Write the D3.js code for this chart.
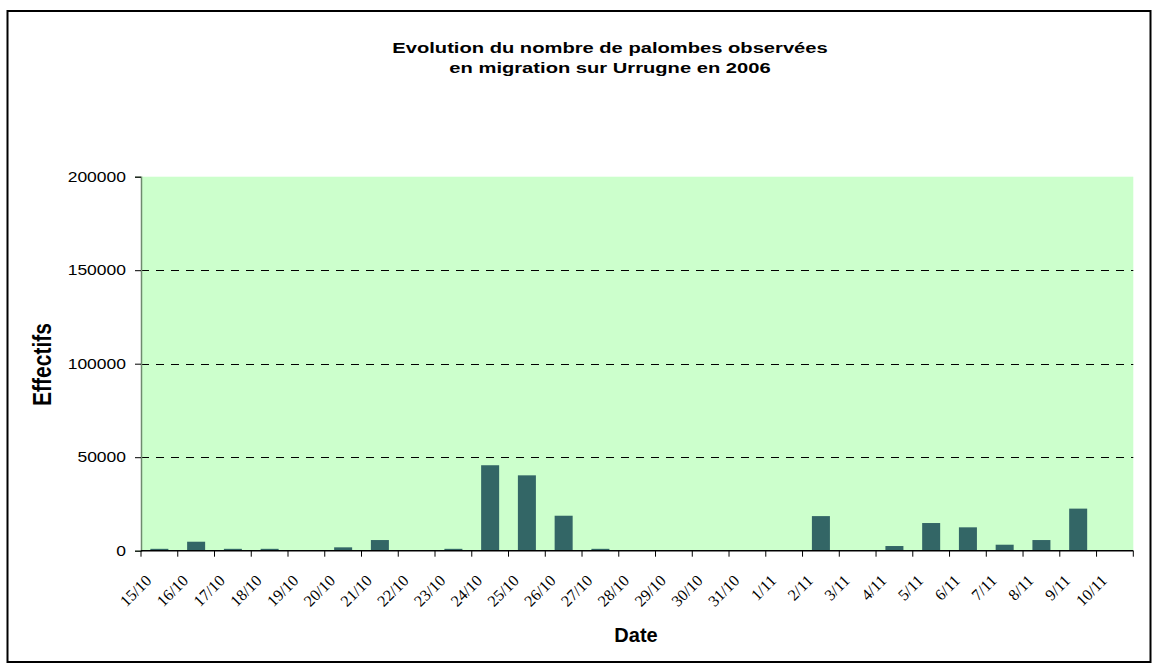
<!DOCTYPE html>
<html>
<head>
<meta charset="utf-8">
<script src="https://cdn.jsdelivr.net/npm/d3@7/dist/d3.min.js"></script>
<style>
  html, body { margin: 0; padding: 0; background: #fff; }
  svg { display: block; }
</style>
</head>
<body>
<svg id="chart" width="1158" height="672"></svg>
<script>
const categories = ["15/10","16/10","17/10","18/10","19/10","20/10","21/10","22/10","23/10","24/10","25/10","26/10","27/10","28/10","29/10","30/10","31/10","1/11","2/11","3/11","4/11","5/11","6/11","7/11","8/11","9/11","10/11"];
const effectifs = [1000,4800,1000,1000,0,1800,5700,0,1000,45700,40300,18700,1000,0,0,0,0,0,18500,0,2500,14800,12500,3200,5700,22500,0];
const yTicks = [0,50000,100000,150000,200000];
const titleLines = ["Evolution du nombre de palombes observées","en migration sur Urrugne en 2006"];
const xTitle = "Date";
const yTitle = "Effectifs";

const svg = d3.select("#chart");
const plot = {left: 141, right: 1133.3, top: 176.7, bottom: 550.7};

// chart border
svg.append("rect").attr("x", 7.5).attr("y", 11).attr("width", 1143).attr("height", 651)
  .attr("fill", "#fff").attr("stroke", "#000").attr("stroke-width", 2);

const x = d3.scaleBand().domain(categories).range([plot.left, plot.right])
  .paddingInner(0.51).paddingOuter(0.255);
const y = d3.scaleLinear().domain([0, 200000]).range([plot.bottom, plot.top]);

// plot background
svg.append("rect").attr("x", plot.left).attr("y", plot.top)
  .attr("width", plot.right - plot.left).attr("height", plot.bottom - plot.top)
  .attr("fill", "#CCFFCC");

// gridlines
svg.append("g").selectAll("line").data(yTicks.filter(t => t > 0 && t < 200000)).join("line")
  .attr("x1", plot.left).attr("x2", plot.right)
  .attr("y1", d => Math.round(y(d)) + 0.5).attr("y2", d => Math.round(y(d)) + 0.5)
  .attr("stroke", "#000").attr("stroke-width", 1).attr("stroke-dasharray", "8,7");

// bars
svg.append("g").selectAll("rect").data(categories).join("rect")
  .attr("x", d => x(d))
  .attr("width", x.bandwidth())
  .attr("y", (d, i) => y(effectifs[i]))
  .attr("height", (d, i) => y(0) - y(effectifs[i]))
  .attr("fill", "#336666");

// y axis
const yAxis = d3.axisLeft(y).tickValues(yTicks).tickSize(6).tickPadding(9).tickFormat(d3.format("d"));
const gy = svg.append("g").attr("transform", `translate(${plot.left},0)`).call(yAxis);
gy.select(".domain").attr("stroke", "#6f8a6f").attr("stroke-width", 1.5);
gy.selectAll(".tick line").attr("stroke", "#000");
gy.selectAll(".tick text")
  .attr("font-family", "Liberation Sans, Arial, sans-serif")
  .attr("font-size", 14).attr("fill", "#000")
  .each(function() {
    const t = d3.select(this);
    const tx = +t.attr("x");
    t.attr("transform", `translate(${tx},0) scale(1.25,1) translate(${-tx},0)`);
  });

// x axis line
svg.append("line").attr("x1", plot.left).attr("x2", plot.right)
  .attr("y1", plot.bottom).attr("y2", plot.bottom)
  .attr("stroke", "#000").attr("stroke-width", 1.5);
// x ticks at category boundaries
const bounds = categories.map(c => x(c) - x.step() * x.paddingOuter()).concat([plot.right]);
svg.append("g").selectAll("line").data(bounds).join("line")
  .attr("x1", d => d).attr("x2", d => d)
  .attr("y1", plot.bottom).attr("y2", plot.bottom + 6)
  .attr("stroke", "#000").attr("stroke-width", 1);

// x labels
svg.append("g").selectAll("text").data(categories).join("text")
  .attr("transform", d => `translate(${x(d) + x.bandwidth() / 2 - 7},${plot.bottom + 31}) rotate(-45)`)
  .attr("text-anchor", "end")
  .attr("font-family", "Liberation Serif, Times New Roman, serif")
  .attr("font-size", 16).attr("fill", "#000")
  .text(d => d);

// title
const cxTitle = 610;
svg.append("g").selectAll("text").data(titleLines).join("text")
  .attr("transform", (d, i) => `translate(${cxTitle},${53 + i * 19.5}) scale(1.3,1)`)
  .attr("text-anchor", "middle")
  .attr("font-family", "Liberation Sans, Arial, sans-serif")
  .attr("font-weight", "bold").attr("font-size", 15.5).attr("fill", "#000")
  .text(d => d);

// x title
svg.append("text").attr("x", 636).attr("y", 642)
  .attr("text-anchor", "middle")
  .attr("font-family", "Liberation Sans, Arial, sans-serif")
  .attr("font-weight", "bold").attr("font-size", 20).attr("fill", "#000")
  .text(xTitle);

// y title
svg.append("text")
  .attr("transform", `translate(50.5,364.5) scale(1.2,1) rotate(-90)`)
  .attr("text-anchor", "middle")
  .attr("font-family", "Liberation Sans, Arial, sans-serif")
  .attr("font-weight", "bold").attr("font-size", 21).attr("fill", "#000")
  .text(yTitle);
</script>
</body>
</html>
